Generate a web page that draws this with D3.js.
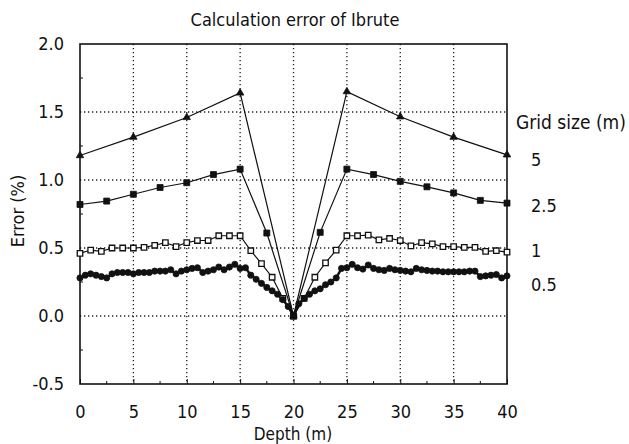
<!DOCTYPE html>
<html>
<head>
<meta charset="utf-8">
<script src="https://cdn.jsdelivr.net/npm/d3@7"></script>
<style>
  body { margin: 0; background: #fff; }
  svg text { font-family: "DejaVu Sans Condensed", "DejaVu Sans", sans-serif; font-stretch: condensed; fill: #111; }
</style>
</head>
<body>
<svg id="chart" width="629" height="444"></svg>
<script>
// grid sizes and the depth step that goes with each
const gridSizes = ['5', '2.5', '1', '0.5'];
const steps = [5, 2.5, 1, 0.5];

const err5 = [1.18, 1.315, 1.46, 1.64, 0, 1.65, 1.465, 1.315, 1.185];
const err25 = [0.82, 0.845, 0.895, 0.945, 0.98, 1.04, 1.08, 0.61, 0,
  0.615, 1.08, 1.04, 0.99, 0.95, 0.905, 0.85, 0.83];
const err1 = [0.46, 0.485, 0.475, 0.50, 0.50, 0.50, 0.505, 0.52, 0.54, 0.51,
  0.54, 0.555, 0.555, 0.59, 0.59, 0.59, 0.48, 0.385, 0.285, 0.13, 0,
  0.13, 0.285, 0.39, 0.485, 0.59, 0.59, 0.595, 0.56, 0.57, 0.555,
  0.515, 0.54, 0.53, 0.51, 0.51, 0.505, 0.505, 0.475, 0.48, 0.47];
const err05 = [0.28, 0.30, 0.31, 0.30, 0.29, 0.28, 0.31, 0.32, 0.32, 0.32,
  0.31, 0.32, 0.32, 0.32, 0.33, 0.33, 0.33, 0.34, 0.31, 0.33,
  0.34, 0.35, 0.355, 0.32, 0.33, 0.34, 0.36, 0.34, 0.36, 0.38,
  0.35, 0.355, 0.30, 0.27, 0.24, 0.21, 0.185, 0.16, 0.12, 0.07,
  0, 0.09, 0.13, 0.16, 0.185, 0.20, 0.23, 0.25, 0.28, 0.35,
  0.355, 0.38, 0.355, 0.345, 0.375, 0.35, 0.34, 0.335, 0.35, 0.34,
  0.335, 0.33, 0.325, 0.35, 0.34, 0.335, 0.33, 0.33, 0.325, 0.325,
  0.325, 0.325, 0.325, 0.33, 0.33, 0.29, 0.295, 0.30, 0.305, 0.28, 0.295];

const xTicks = [0, 5, 10, 15, 20, 25, 30, 35, 40];
const yTicks = [-0.5, 0.0, 0.5, 1.0, 1.5, 2.0];

const svg = d3.select('#chart');
const margin = { top: 44, right: 122, bottom: 60, left: 80 };
const width = 629 - margin.left - margin.right;
const height = 444 - margin.top - margin.bottom;

const x = d3.scaleLinear().domain([0, 40]).range([0, width]);
const y = d3.scaleLinear().domain([-0.5, 2.0]).range([height, 0]);

const g = svg.append('g').attr('transform', `translate(${margin.left},${margin.top})`);

// dotted grid
g.append('g').selectAll('line').data(xTicks.slice(1, -1)).join('line')
  .attr('x1', d => x(d)).attr('x2', d => x(d))
  .attr('y1', 0).attr('y2', height)
  .attr('stroke', '#222').attr('stroke-width', 1.3).attr('stroke-dasharray', '1.3,2.7');
g.append('g').selectAll('line').data(yTicks.slice(1, -1)).join('line')
  .attr('y1', d => y(d)).attr('y2', d => y(d))
  .attr('x1', 0).attr('x2', width)
  .attr('stroke', '#222').attr('stroke-width', 1.3).attr('stroke-dasharray', '1.3,2.7');

// minor ticks
g.append('g').selectAll('line').data(d3.range(2.5, 40, 5)).join('line')
  .attr('x1', d => x(d)).attr('x2', d => x(d))
  .attr('y1', height).attr('y2', height - 3)
  .attr('stroke', '#111');
g.append('g').selectAll('line').data(d3.range(-0.25, 2, 0.5)).join('line')
  .attr('y1', d => y(d)).attr('y2', d => y(d))
  .attr('x1', 0).attr('x2', 3)
  .attr('stroke', '#111');

// axes (labels only, frame drawn separately)
const xAxis = g.append('g').attr('transform', `translate(0,${height})`)
  .call(d3.axisBottom(x).tickValues(xTicks).tickSize(5).tickPadding(16).tickFormat(d3.format('d')));
xAxis.select('.domain').remove();
xAxis.selectAll('.tick line').attr('y2', -5).attr('stroke', '#111');
xAxis.selectAll('text').attr('font-size', 18);

const yAxis = g.append('g')
  .call(d3.axisLeft(y).tickValues(yTicks).tickSize(0).tickPadding(16).tickFormat(d => d3.format('.1f')(d).replace('−', '-')));
yAxis.select('.domain').remove();
yAxis.selectAll('text').attr('font-size', 18);

g.append('rect').attr('width', width).attr('height', height)
  .attr('fill', 'none').attr('stroke', '#111').attr('stroke-width', 1.6);

// series
const series = [err5, err25, err1, err05].map((vals, i) => ({
  name: gridSizes[i],
  points: vals.map((v, j) => ({ d: j * steps[i], e: v }))
}));

const line = d3.line().x(p => x(p.d)).y(p => y(p.e));

series.forEach((s, i) => {
  g.append('path').datum(s.points)
    .attr('d', line).attr('fill', 'none')
    .attr('stroke', '#111').attr('stroke-width', i === 3 ? 2.4 : 1.2);
});

const sym = [d3.symbolTriangle, d3.symbolSquare, d3.symbolSquare, d3.symbolCircle];
const symSize = [24, 36, 30, 30];
series.forEach((s, i) => {
  g.append('g').selectAll('path').data(s.points).join('path')
    .attr('transform', p => `translate(${x(p.d)},${y(p.e)})`)
    .attr('d', d3.symbol().type(sym[i]).size(symSize[i]))
    .attr('fill', i === 2 ? '#fff' : '#111')
    .attr('stroke', '#111').attr('stroke-width', i === 2 ? 1.3 : 0.8);
});

// labels
svg.append('text').attr('x', 295).attr('y', 26).attr('text-anchor', 'middle')
  .attr('font-size', 18).text('Calculation error of Ibrute');

svg.append('text').attr('transform', 'translate(24,211) rotate(-90)')
  .attr('text-anchor', 'middle').attr('font-size', 18).text('Error (%)');

svg.append('text').attr('x', 293).attr('y', 440).attr('text-anchor', 'middle')
  .attr('font-size', 17).text('Depth (m)');

svg.append('text').attr('x', 516).attr('y', 129).attr('font-size', 19).text('Grid size (m)');

const legendY = [159, 205, 250, 284];
svg.append('g').selectAll('text').data(gridSizes).join('text')
  .attr('x', 531).attr('y', (d, i) => legendY[i] + 7)
  .attr('font-size', 18).text(d => d);
</script>
</body>
</html>
